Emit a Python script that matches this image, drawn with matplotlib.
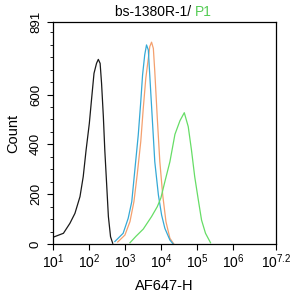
# гистограммы проточной цитометрии: bs-1380R-1 / P1

import matplotlib
matplotlib.use('Agg')
import matplotlib.pyplot as plt
from matplotlib.ticker import FixedLocator, MultipleLocator, LogLocator, NullFormatter
import numpy as np

plt.rcParams['font.family'] = ['Liberation Sans', 'DejaVu Sans']
plt.rcParams['mathtext.fontset'] = 'custom'
plt.rcParams['mathtext.rm'] = 'Liberation Sans'
plt.rcParams['mathtext.it'] = 'Liberation Sans'

# данные (log10 интенсивности, число событий)
black_log = [1.00, 1.29, 1.47, 1.61, 1.75, 1.84, 1.92, 2.01, 2.07, 2.14, 2.21, 2.26,
             2.31, 2.35, 2.40, 2.44, 2.49, 2.54, 2.60, 2.66]
black_cnt = [27, 43, 83, 123, 190, 270, 377, 484, 578, 685, 725, 741,
             725, 645, 511, 377, 244, 110, 29, 3]

blue_log = [2.72, 2.95, 3.09, 3.19, 3.28, 3.37, 3.44, 3.49, 3.55, 3.60, 3.65, 3.69,
            3.76, 3.83, 3.93, 4.02, 4.11, 4.25, 4.34]
blue_cnt = [10, 43, 103, 170, 304, 437, 571, 678, 759, 799, 779, 678,
            504, 330, 197, 116, 63, 16, 0]

orange_log = [2.80, 3.00, 3.14, 3.25, 3.34, 3.44, 3.51, 3.58, 3.65, 3.69, 3.74, 3.79,
              3.83, 3.90, 3.97, 4.05, 4.14, 4.25, 4.36]
orange_cnt = [8, 36, 90, 170, 277, 411, 545, 665, 745, 792, 810, 785,
              692, 504, 330, 197, 90, 23, 0]

green_log = [3.14, 3.30, 3.51, 3.74, 3.90, 4.00, 4.11, 4.25, 4.39, 4.53, 4.65, 4.76,
             4.85, 4.94, 5.04, 5.13, 5.24, 5.38]
green_cnt = [5, 30, 60, 110, 150, 185, 250, 330, 440, 495, 527, 471,
             377, 270, 177, 96, 43, 5]

x_ticks_log = [1, 2, 3, 4, 5, 6, 7.2]
x_tick_labels = ['$10^{1}$', '$10^{2}$', '$10^{3}$', '$10^{4}$', '$10^{5}$', '$10^{6}$', '$10^{7.2}$']
y_ticks = [0, 200, 400, 600, 891]

fig = plt.figure(figsize=(2.9, 2.96), dpi=100)
ax = fig.add_axes([53 / 290, 1 - 244 / 296, 223 / 290, 222 / 296])

ax.plot(10 ** np.array(black_log), black_cnt, color='#1a1a1a', lw=0.9)
ax.plot(10 ** np.array(orange_log), orange_cnt, color='#f4a06e', lw=0.9)
ax.plot(10 ** np.array(blue_log), blue_cnt, color='#35a9d6', lw=0.9)
ax.plot(10 ** np.array(green_log), green_cnt, color='#66dd66', lw=0.9)

ax.set_xscale('log')
ax.set_xlim(10 ** 1, 10 ** 7.2)
ax.set_ylim(0, 891)

ax.xaxis.set_major_locator(FixedLocator([10 ** v for v in x_ticks_log]))
ax.set_xticklabels(x_tick_labels, fontsize=10)
ax.xaxis.set_minor_locator(LogLocator(base=10, subs=np.arange(2, 10)))
ax.xaxis.set_minor_formatter(NullFormatter())

ax.set_yticks(y_ticks)
ax.set_yticklabels([str(v) for v in y_ticks], fontsize=9.5, rotation=90, va='center')
ax.yaxis.set_minor_locator(MultipleLocator(50))

ax.tick_params(axis='both', which='major', direction='out', length=4, width=0.8, color='black')
ax.tick_params(axis='both', which='minor', direction='out', length=2, width=0.6, color='black')
ax.tick_params(axis='x', which='major', pad=2)
ax.tick_params(axis='y', which='major', pad=4)

for s in ax.spines.values():
    s.set_linewidth(0.9)

ax.set_xlabel('AF647-H', fontsize=10.5, labelpad=6)
ax.set_ylabel('Count', fontsize=10.5, labelpad=7)

# заголовок из двух частей разного цвета
fig.text(195 / 290, 1 - 12 / 296, 'bs-1380R-1/ ', ha='right', va='center', fontsize=10, color='black')
fig.text(195 / 290, 1 - 12 / 296, 'P1', ha='left', va='center', fontsize=10, color='#55cc55')

fig.savefig('out.png', dpi=100)
